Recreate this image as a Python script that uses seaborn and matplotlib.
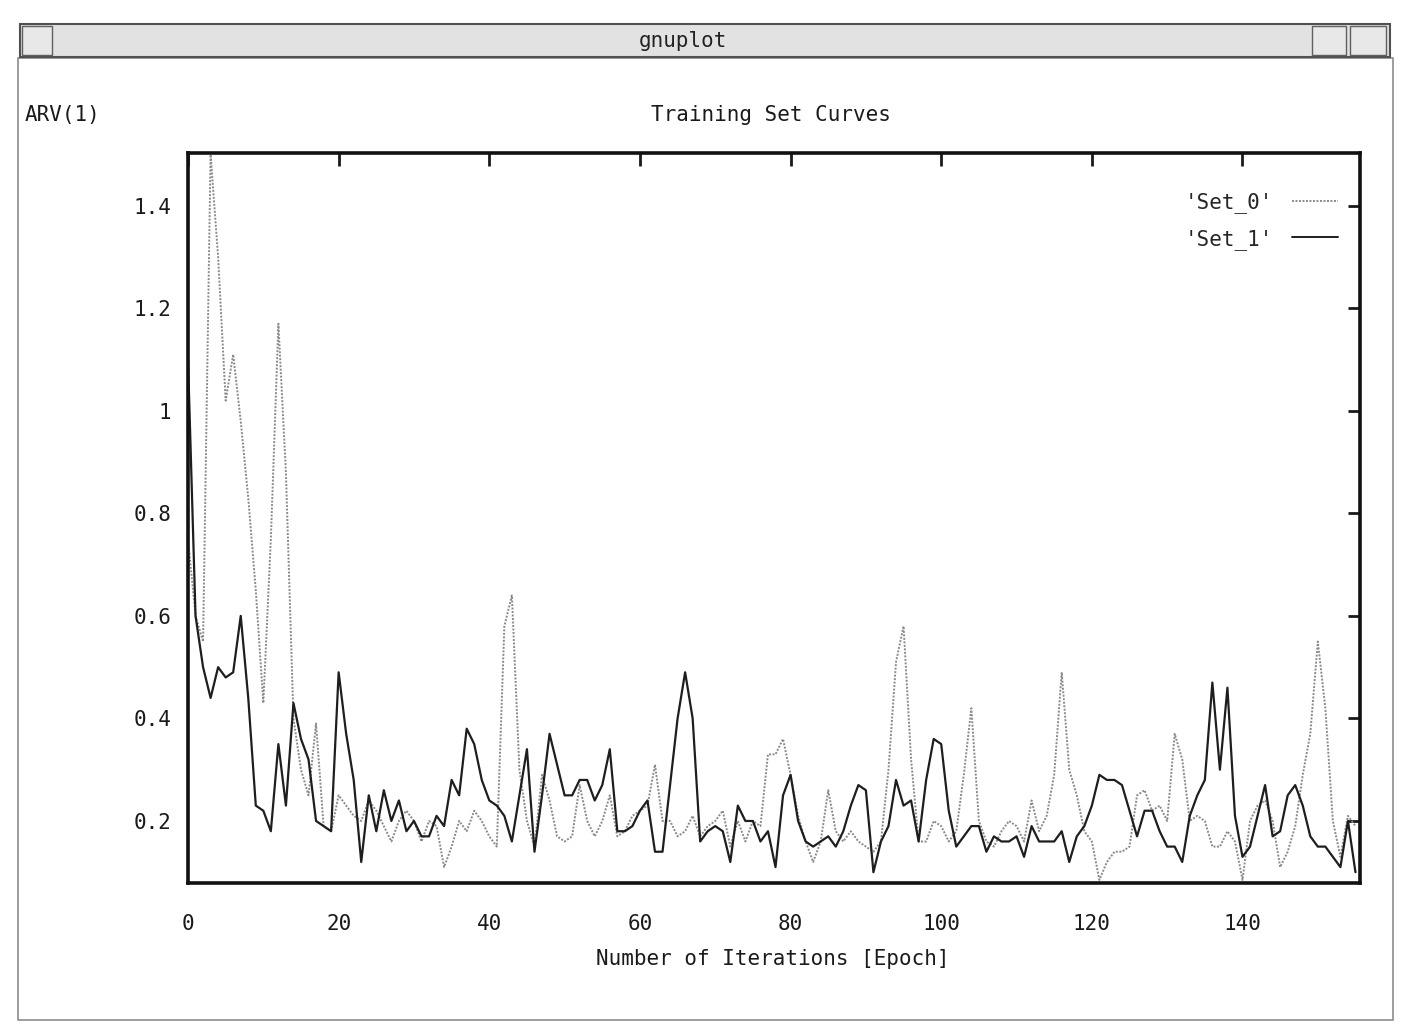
import numpy as np
import pandas as pd
import seaborn as sns
import matplotlib.pyplot as plt
from matplotlib.patches import Rectangle

# ARV(1) per epoch
set_0 = [0.75, 0.60, 0.55, 1.50, 1.30, 1.02, 1.11, 0.98, 0.83, 0.65,
         0.43, 0.75, 1.17, 0.88, 0.40, 0.30, 0.25, 0.39, 0.19, 0.18,
         0.25, 0.23, 0.21, 0.20, 0.24, 0.22, 0.19, 0.16, 0.20, 0.22,
         0.20, 0.16, 0.20, 0.19, 0.11, 0.15, 0.20, 0.18, 0.22, 0.20,
         0.17, 0.15, 0.58, 0.64, 0.30, 0.20, 0.15, 0.29, 0.24, 0.17,
         0.16, 0.17, 0.27, 0.20, 0.17, 0.20, 0.25, 0.17, 0.18, 0.21,
         0.22, 0.23, 0.31, 0.20, 0.20, 0.17, 0.18, 0.21, 0.17, 0.19,
         0.20, 0.22, 0.15, 0.20, 0.16, 0.20, 0.19, 0.33, 0.33, 0.36,
         0.29, 0.21, 0.16, 0.12, 0.16, 0.26, 0.18, 0.16, 0.18, 0.16,
         0.15, 0.14, 0.16, 0.30, 0.51, 0.58, 0.32, 0.16, 0.16, 0.20,
         0.19, 0.16, 0.18, 0.29, 0.42, 0.20, 0.16, 0.15, 0.18, 0.20,
         0.19, 0.16, 0.24, 0.18, 0.21, 0.29, 0.49, 0.30, 0.25, 0.18,
         0.16, 0.085, 0.12, 0.14, 0.14, 0.15, 0.25, 0.26, 0.22, 0.23,
         0.20, 0.37, 0.32, 0.20, 0.21, 0.20, 0.15, 0.15, 0.18, 0.16,
         0.085, 0.20, 0.23, 0.24, 0.20, 0.11, 0.14, 0.19, 0.29, 0.37,
         0.55, 0.42, 0.20, 0.13, 0.21, 0.19]

set_1 = [1.10, 0.60, 0.50, 0.44, 0.50, 0.48, 0.49, 0.60, 0.44, 0.23,
         0.22, 0.18, 0.35, 0.23, 0.43, 0.36, 0.32, 0.20, 0.19, 0.18,
         0.49, 0.37, 0.28, 0.12, 0.25, 0.18, 0.26, 0.20, 0.24, 0.18,
         0.20, 0.17, 0.17, 0.21, 0.19, 0.28, 0.25, 0.38, 0.35, 0.28,
         0.24, 0.23, 0.21, 0.16, 0.25, 0.34, 0.14, 0.25, 0.37, 0.31,
         0.25, 0.25, 0.28, 0.28, 0.24, 0.27, 0.34, 0.18, 0.18, 0.19,
         0.22, 0.24, 0.14, 0.14, 0.27, 0.40, 0.49, 0.40, 0.16, 0.18,
         0.19, 0.18, 0.12, 0.23, 0.20, 0.20, 0.16, 0.18, 0.11, 0.25,
         0.29, 0.20, 0.16, 0.15, 0.16, 0.17, 0.15, 0.18, 0.23, 0.27,
         0.26, 0.10, 0.16, 0.19, 0.28, 0.23, 0.24, 0.16, 0.28, 0.36,
         0.35, 0.22, 0.15, 0.17, 0.19, 0.19, 0.14, 0.17, 0.16, 0.16,
         0.17, 0.13, 0.19, 0.16, 0.16, 0.16, 0.18, 0.12, 0.17, 0.19,
         0.23, 0.29, 0.28, 0.28, 0.27, 0.22, 0.17, 0.22, 0.22, 0.18,
         0.15, 0.15, 0.12, 0.21, 0.25, 0.28, 0.47, 0.30, 0.46, 0.21,
         0.13, 0.15, 0.21, 0.27, 0.17, 0.18, 0.25, 0.27, 0.23, 0.17,
         0.15, 0.15, 0.13, 0.11, 0.20, 0.10]

epochs = list(range(len(set_0)))
x_ticks = [0, 20, 40, 60, 80, 100, 120, 140]
y_ticks = [0.2, 0.4, 0.6, 0.8, 1.0, 1.2, 1.4]
y_tick_labels = ["0.2", "0.4", "0.6", "0.8", "1", "1.2", "1.4"]

W, H = 1412, 1029


def fx(px):
    return px / W


def fy(py):
    return 1 - py / H


df = pd.concat([
    pd.DataFrame({"Epoch": epochs, "ARV": set_0, "Set": "'Set_0'"}),
    pd.DataFrame({"Epoch": epochs, "ARV": set_1, "Set": "'Set_1'"}),
])

sns.set_style("white")
plt.rcParams['font.family'] = ['DejaVu Sans Mono', 'DejaVu Sans']

fig = plt.figure(figsize=(W / 100, H / 100), dpi=100)
fig.patch.set_facecolor("white")

# window chrome of the X11 gnuplot terminal
fig.add_artist(Rectangle((fx(18), fy(1020)), fx(1393) - fx(18), fy(58) - fy(1020),
                         transform=fig.transFigure, fill=False, edgecolor="#8c8c8c", lw=1.2))
fig.add_artist(Rectangle((fx(20), fy(57)), fx(1390) - fx(20), fy(24) - fy(57),
                         transform=fig.transFigure, facecolor="#e2e2e2", edgecolor="#505050", lw=1.5))
for x0, x1 in [(22, 52), (1312, 1346), (1350, 1386)]:
    fig.add_artist(Rectangle((fx(x0), fy(55)), fx(x1) - fx(x0), fy(26) - fy(55),
                             transform=fig.transFigure, facecolor="#e8e8e8", edgecolor="#606060", lw=1))
fig.text(fx(683), fy(41), "gnuplot", ha="center", va="center", fontsize=15, color="#222222")

ax = fig.add_axes([fx(188), fy(883), fx(1360) - fx(188), fy(153) - fy(883)])

sns.lineplot(data=df, x="Epoch", y="ARV", hue="Set", style="Set",
             palette={"'Set_0'": "#8a8a8a", "'Set_1'": "#1e1e1e"},
             dashes={"'Set_0'": (1, 0.8), "'Set_1'": ""},
             size="Set", sizes={"'Set_0'": 1.4, "'Set_1'": 1.6},
             ax=ax)

ax.set_xlim(0, 155.6)
ax.set_ylim(0.079, 1.503)
ax.set_xticks(x_ticks)
ax.set_xticklabels([str(t) for t in x_ticks])
ax.set_yticks(y_ticks)
ax.set_yticklabels(y_tick_labels)
ax.tick_params(direction="in", length=9, width=2, top=True, right=True,
               labelsize=15, colors="#1a1a1a")
ax.tick_params(axis="x", pad=22)
ax.tick_params(axis="y", pad=12)
for sp in ax.spines.values():
    sp.set_linewidth(2.6)
    sp.set_color("#111111")
ax.set_xlabel("")
ax.set_ylabel("")

leg = ax.legend(loc="upper right", bbox_to_anchor=(0.997, 0.972), frameon=False,
                markerfirst=False, handlelength=2.2, fontsize=15, labelspacing=0.75,
                handletextpad=0.9)
for line in leg.get_lines():
    line.set_linewidth(1.4)

fig.text(fx(25), fy(115), "ARV(1)", ha="left", va="center", fontsize=15, color="#1a1a1a")
fig.text(fx(771), fy(115), "Training Set Curves", ha="center", va="center", fontsize=15, color="#1a1a1a")
fig.text(fx(773), fy(959), "Number of Iterations [Epoch]", ha="center", va="center",
         fontsize=15, color="#1a1a1a")

fig.savefig("out.png", dpi=100)
